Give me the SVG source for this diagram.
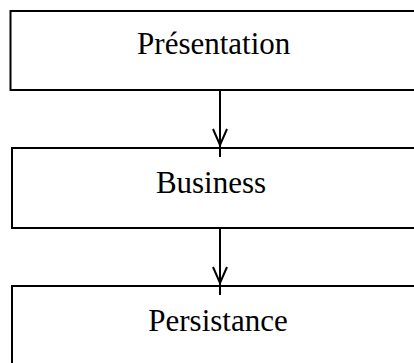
<svg xmlns="http://www.w3.org/2000/svg" width="414" height="363" viewBox="0 0 414 363">
<style>
.box{fill:#fff;stroke:#000;stroke-width:2}
.lbl{font-family:"Liberation Serif","Times New Roman",serif;font-size:31px;fill:#000;text-anchor:middle}
.con{fill:none;stroke:#000;stroke-width:2}
</style>
<rect width="414" height="363" fill="#fff"/>
<g id="presentation">
<rect class="box" x="10.5" y="11" width="420" height="79"/>
<text class="lbl" x="213.7" y="54.3">Présentation</text>
</g>
<g id="business">
<rect class="box" x="12" y="148" width="420" height="80"/>
<text class="lbl" x="211" y="192.7">Business</text>
</g>
<g id="persistance">
<rect class="box" x="12" y="286" width="420" height="100"/>
<text class="lbl" x="218" y="331">Persistance</text>
</g>
<g id="connectors">
<line class="con" x1="220" y1="90" x2="220" y2="157"/>
<polyline class="con" points="213,129 220,145 227,129"/>
<line class="con" x1="220" y1="228" x2="220" y2="295"/>
<polyline class="con" points="213,267 220,283 227,267"/>
</g>
</svg>
